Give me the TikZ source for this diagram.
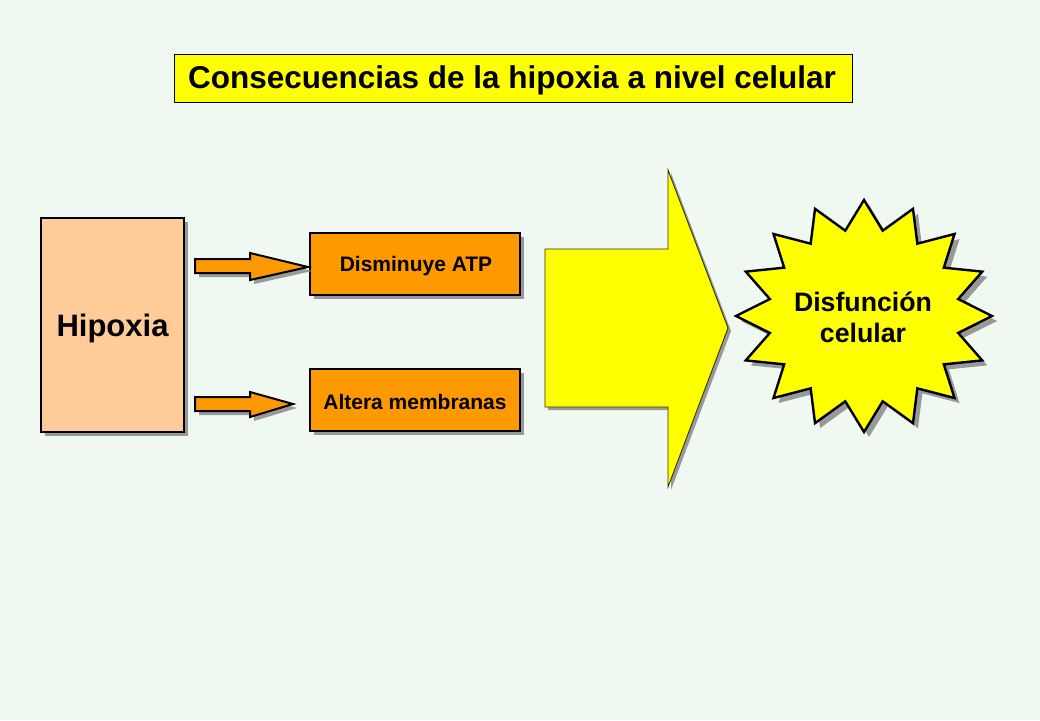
\documentclass[tikz,border=0pt]{standalone}
\usepackage{fontspec}
\setmainfont{Liberation Sans}
\definecolor{bgc}{HTML}{EFF8F1}
\definecolor{peach}{HTML}{FFCC99}
\definecolor{orangec}{HTML}{FF9900}
\definecolor{yellowc}{HTML}{FFFF00}
\definecolor{shadowc}{HTML}{999999}
\definecolor{darkol}{HTML}{333300}
\begin{document}
\begin{tikzpicture}[x=1pt,y=-1pt,
  boxstyle/.style={draw=black,line width=2.4pt},
  shadowstyle/.style={fill=shadowc,draw=none},
  txt/.style={font=\bfseries\fontsize{21}{24}\selectfont,text=black,yshift=-2pt}]
\fill[bgc] (0,0) rectangle (1040,720);
\useasboundingbox (0,0) rectangle (1040,720);

% title
\draw[fill=yellowc,draw=black,line width=1pt] (174,54) rectangle (852,102);
\node[font=\bfseries\fontsize{31.5}{36}\selectfont,yshift=-2pt] (title) at (512,78) {Consecuencias de la hipoxia a nivel celular};

% Hipoxia box
\fill[shadowstyle] (45,222) rectangle (188,436);
\draw[boxstyle,fill=peach] (41,218) rectangle (184,432);
\node[font=\bfseries\fontsize{31}{36}\selectfont,yshift=-3pt] (hip) at (112.5,325) {Hipoxia};

% small boxes
\fill[shadowstyle] (314,237) rectangle (524,299);
\draw[boxstyle,fill=orangec] (310,233) rectangle (520,295);
\node[txt] (atp) at (416,264) {Disminuye ATP};
\fill[shadowstyle] (314,373) rectangle (524,435);
\draw[boxstyle,fill=orangec] (310,369) rectangle (520,431);
\node[txt] (mem) at (415,400) {Altera membranas};

% small arrows
\fill[shadowstyle,shift={(4,4)}] (195,259) -- (250,259) -- (250,253) -- (308,267) -- (250,280) -- (250,273) -- (195,273) -- cycle;
\draw[fill=orangec,draw=black,line width=2pt,line join=miter] (195,259) -- (250,259) -- (250,253) -- (308,267) -- (250,280) -- (250,273) -- (195,273) -- cycle;
\fill[shadowstyle,shift={(4,4)}] (195,397) -- (250,397) -- (250,392) -- (293,404) -- (250,417) -- (250,411) -- (195,411) -- cycle;
\draw[fill=orangec,draw=black,line width=2pt,line join=miter] (195,397) -- (250,397) -- (250,392) -- (293,404) -- (250,417) -- (250,411) -- (195,411) -- cycle;

% big arrow
\fill[shadowstyle,shift={(3,3)}] (545,249) -- (668,249) -- (668,170) -- (728,328) -- (668,487) -- (668,407) -- (545,407) -- cycle;
\draw[fill=yellowc,draw=darkol,line width=0.9pt] (545,249) -- (668,249) -- (668,170) -- (728,328) -- (668,487) -- (668,407) -- (545,407) -- cycle;

% starburst
\fill[shadowstyle,shift={(5,5)}] ({864+128},316) \foreach \a in {0,22.5,...,337.5}{ -- ({864+96*cos(\a+11.25)},{316-87*sin(\a+11.25)}) -- ({864+128*cos(\a+22.5)},{316-116*sin(\a+22.5)}) } -- cycle;
\draw[fill=yellowc,draw=black,line width=2.4pt,line join=miter] ({864+128},316) \foreach \a in {0,22.5,...,337.5}{ -- ({864+96*cos(\a+11.25)},{316-87*sin(\a+11.25)}) -- ({864+128*cos(\a+22.5)},{316-116*sin(\a+22.5)}) } -- cycle;
\node[font=\bfseries\fontsize{26.7}{31}\selectfont,align=center] (disf) at (863,317) {Disfunción\\celular};
\end{tikzpicture}
\end{document}
